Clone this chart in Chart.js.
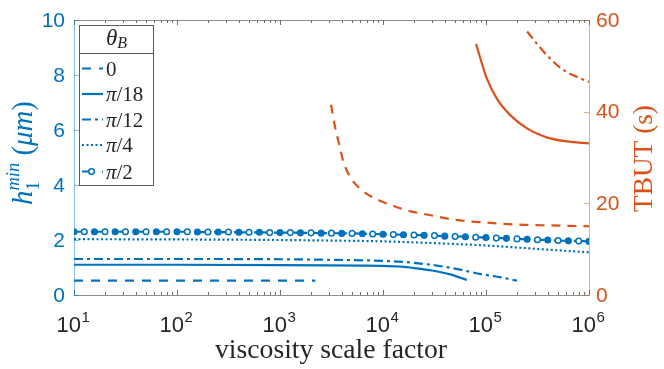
<!DOCTYPE html>
<html><head><meta charset="utf-8">
<script src="https://cdn.jsdelivr.net/npm/chart.js@4/dist/chart.umd.min.js"></script>
<style>html,body{margin:0;padding:0;background:#fff}</style>
</head><body>
<canvas id="c" width="664" height="369"></canvas>
<script>
// ---------- data ----------
const xTickValues = [10, 100, 1000, 10000, 100000, 1000000];
const xTickExponents = ['1', '2', '3', '4', '5', '6'];
const leftTicks = [0, 2, 4, 6, 8, 10];
const rightTicks = [0, 20, 40, 60];
const legendLabels = ['0', 'π/18', 'π/12', 'π/4', 'π/2'];

// h1min (left axis)
const xTheta0 = [10, 100, 1000, 2200];
const yTheta0 = [0.52, 0.52, 0.52, 0.52];
const xPi18 = [10, 100, 1000, 3000, 6000, 10000, 15000, 20000, 30000, 45000, 65000];
const yPi18 = [1.10, 1.10, 1.09, 1.08, 1.07, 1.06, 1.03, 0.98, 0.89, 0.75, 0.55];
const xPi12 = [10, 100, 1000, 3000, 10000, 20000, 45000, 90000, 140000, 200000];
const yPi12 = [1.31, 1.31, 1.30, 1.28, 1.24, 1.17, 0.99, 0.76, 0.64, 0.52];
const xPi4 = [10, 100, 1000, 3000, 10000, 30000, 100000, 300000, 1000000];
const yPi4 = [2.03, 2.02, 2.00, 1.98, 1.95, 1.89, 1.80, 1.68, 1.55];
const xPi2 = [10, 12.6, 15.8, 20, 25.1, 31.6, 39.8, 50.1, 63.1, 79.4,
  100, 126, 158, 200, 251, 316, 398, 501, 631, 794,
  1000, 1260, 1580, 2000, 2510, 3160, 3980, 5010, 6310, 7940,
  10000, 12600, 15800, 20000, 25100, 31600, 39800, 50100, 63100, 79400,
  100000, 126000, 158000, 200000, 251000, 316000, 398000, 501000, 631000, 794000, 1000000];
const yPi2 = [2.30, 2.30, 2.30, 2.30, 2.30, 2.30, 2.30, 2.30, 2.30, 2.30,
  2.30, 2.30, 2.29, 2.29, 2.29, 2.29, 2.28, 2.28, 2.28, 2.27,
  2.27, 2.27, 2.26, 2.26, 2.25, 2.25, 2.24, 2.24, 2.23, 2.22,
  2.21, 2.20, 2.19, 2.18, 2.17, 2.16, 2.14, 2.13, 2.12, 2.10,
  2.09, 2.07, 2.06, 2.04, 2.03, 2.01, 2.00, 1.98, 1.97, 1.96, 1.95];

// TBUT (right axis)
const xTbutDashed = [3130, 3420, 3770, 4120, 4790, 6210, 8690, 13100, 19000, 27600, 41500, 64900, 101600, 147000, 248000, 388000, 1000000];
const yTbutDashed = [41.5, 36.7, 32.7, 29.1, 25.8, 22.9, 20.9, 19.3, 18.2, 17.5, 16.7, 16.1, 15.8, 15.5, 15.3, 15.2, 15.0];
const xTbutSolid = [80000, 101600, 127000, 171000, 248000, 388000, 607000, 1000000];
const yTbutSolid = [54.8, 47.3, 42.9, 39.3, 36.4, 34.4, 33.5, 33.1];
const xTbutDashDot = [251000, 310000, 418000, 564000, 759000, 1000000];
const yTbutDashDot = [57.5, 54.9, 51.6, 49.1, 47.6, 46.5];

// ---------- styles ----------
const BLUE = '#0072BD', ORANGE = '#D95319';
const SERIF = '"Liberation Serif","Times New Roman",serif';
const SANS = '"Liberation Sans",Arial,Helvetica,sans-serif';
const pts = (xs, ys) => xs.map((x, i) => ({x: x, y: ys[i]}));

function lineDs(xs, ys, color, dash, axis, extra) {
  return Object.assign({
    data: pts(xs, ys), borderColor: color, backgroundColor: color, borderWidth: 2.2,
    borderDash: dash, pointRadius: 0, yAxisID: axis, fill: false, tension: 0,
    cubicInterpolationMode: 'monotone', borderCapStyle: 'butt'
  }, extra || {});
}

const datasets = [
  lineDs(xTheta0, yTheta0, BLUE, [9, 8], 'y'),
  lineDs(xPi18, yPi18, BLUE, [], 'y'),
  lineDs(xPi12, yPi12, BLUE, [9, 4, 3, 4], 'y'),
  lineDs(xPi4, yPi4, BLUE, [2, 2.5], 'y'),
  lineDs(xPi2, yPi2, BLUE, [13, 7], 'y', {
    pointRadius: 2.8, pointBorderWidth: 1.5, pointBorderColor: BLUE,
    pointBackgroundColor: (c) => (c.dataIndex % 2 ? '#ffffff' : BLUE)
  }),
  lineDs(xTbutDashed, yTbutDashed, ORANGE, [9, 7], 'y2'),
  lineDs(xTbutSolid, yTbutSolid, ORANGE, [], 'y2'),
  lineDs(xTbutDashDot, yTbutDashDot, ORANGE, [9, 4, 3, 4], 'y2')
];

// ---------- rich text helpers ----------
function fontOf(p, s) { return (p.italic ? 'italic ' : '') + (p.size * s).toFixed(2) + 'px ' + (p.fam || SERIF); }
function measureParts(ctx, parts, s) {
  let w = 0, pend = 0;
  for (const p of parts) {
    ctx.font = fontOf(p, s);
    p._w = ctx.measureText(p.t).width;
    if (p.noAdv) { pend = p._w; p._adv = 0; }
    else { p._adv = Math.max(p._w, pend); pend = 0; }
    w += p._adv;
  }
  return w;
}
function drawParts(ctx, parts, x, y, s) {
  let cx = x;
  for (const p of parts) {
    ctx.font = fontOf(p, s);
    ctx.fillText(p.t, cx, y + (p.dy || 0) * s);
    cx += p._adv;
  }
}
function fitParts(ctx, parts, target) {
  const w = measureParts(ctx, parts, 1);
  const s = target / w;
  measureParts(ctx, parts, s);
  return s;
}

const decor = {
  id: 'decor',
  afterDatasetsDraw(chart) {
    const ctx = chart.ctx, a = chart.chartArea;
    const xs = chart.scales.x, ys = chart.scales.y, y2 = chart.scales.y2;
    ctx.save();
    ctx.setLineDash([]);
    // box
    ctx.lineWidth = 1;
    ctx.strokeStyle = '#8c8c8c';
    ctx.beginPath();
    ctx.moveTo(a.left, a.top + 0.5); ctx.lineTo(a.right, a.top + 0.5);
    ctx.moveTo(a.left, a.bottom + 0.5); ctx.lineTo(a.right, a.bottom + 0.5);
    ctx.stroke();
    // x ticks
    ctx.strokeStyle = '#6e6e6e';
    ctx.beginPath();
    for (let d = 1; d <= 6; d++) {
      for (let m = 1; m <= 9; m++) {
        const v = Math.pow(10, d) * m;
        if (v > 1e6) break;
        const px = Math.round(xs.getPixelForValue(v)) + 0.5;
        const len = m === 1 ? 5 : 3;
        ctx.moveTo(px, a.bottom); ctx.lineTo(px, a.bottom - len);
        ctx.moveTo(px, a.top); ctx.lineTo(px, a.top + len);
      }
    }
    ctx.stroke();
    // left axis
    ctx.strokeStyle = 'rgba(0,114,189,0.45)';
    ctx.beginPath();
    ctx.moveTo(a.left + 0.5, a.top); ctx.lineTo(a.left + 0.5, a.bottom + 1);
    for (const t of leftTicks) {
      const py = Math.round(ys.getPixelForValue(t)) + 0.5;
      ctx.moveTo(a.left, py); ctx.lineTo(a.left + 5, py);
    }
    ctx.stroke();
    // right axis
    ctx.strokeStyle = 'rgba(217,83,25,0.5)';
    ctx.beginPath();
    ctx.moveTo(a.right + 0.5, a.top); ctx.lineTo(a.right + 0.5, a.bottom + 1);
    for (const t of rightTicks) {
      const py = Math.round(y2.getPixelForValue(t)) + 0.5;
      ctx.moveTo(a.right, py); ctx.lineTo(a.right - 5, py);
    }
    ctx.stroke();

    // tick labels
    ctx.textBaseline = 'middle';
    ctx.font = '21px ' + SANS;
    ctx.fillStyle = BLUE; ctx.textAlign = 'right';
    for (const t of leftTicks) ctx.fillText(String(t), a.left - 9, ys.getPixelForValue(t) + 1);
    ctx.fillStyle = ORANGE; ctx.textAlign = 'left';
    for (const t of rightTicks) ctx.fillText(String(t), a.right + 7, y2.getPixelForValue(t) + 1);
    ctx.textBaseline = 'alphabetic';
    ctx.fillStyle = '#262626';
    xTickValues.forEach((v, i) => {
      const px = xs.getPixelForValue(v);
      ctx.font = '22px ' + SANS;
      const w1 = ctx.measureText('10').width;
      ctx.font = '15px ' + SANS;
      const w2 = ctx.measureText(xTickExponents[i]).width;
      const x0 = px - (w1 + w2) / 2 - 1;
      ctx.textAlign = 'left';
      ctx.font = '22px ' + SANS;
      ctx.fillText('10', x0, 332);
      ctx.font = '15px ' + SANS;
      ctx.fillText(xTickExponents[i], x0 + w1 + 0.5, 322);
    });

    // x title
    ctx.fillStyle = '#262626';
    const xt = [{t: 'viscosity scale factor', size: 26}];
    const sx = fitParts(ctx, xt, 232);
    drawParts(ctx, xt, 215, 358, sx);

    // left title (rotated)
    const lt = [
      {t: 'h', italic: true, size: 25},
      {t: '1', size: 16, dy: 6, noAdv: true},
      {t: 'min', italic: true, size: 16, dy: -11},
      {t: ' (', size: 25},
      {t: 'μm', italic: true, size: 25},
      {t: ')', size: 25}
    ];
    ctx.save();
    ctx.translate(32, 153);
    ctx.rotate(-Math.PI / 2);
    ctx.fillStyle = BLUE;
    const sl = fitParts(ctx, lt, 104);
    drawParts(ctx, lt, -52, 0, sl);
    ctx.restore();

    // right title (rotated)
    const rt = [{t: 'TBUT (s)', size: 25}];
    ctx.save();
    ctx.translate(652, 158.5);
    ctx.rotate(-Math.PI / 2);
    ctx.fillStyle = ORANGE;
    const sr = fitParts(ctx, rt, 107);
    drawParts(ctx, rt, -53.5, 0, sr);
    ctx.restore();

    // legend
    const L = 79.5, T = 25.5, R = 153.5, B = 185.5;
    ctx.fillStyle = '#ffffff';
    ctx.fillRect(L, T, R - L, B - T);
    ctx.strokeStyle = '#5a5a5a';
    ctx.lineWidth = 1;
    ctx.strokeRect(L, T, R - L, B - T);
    ctx.beginPath(); ctx.moveTo(L, 53.5); ctx.lineTo(R, 53.5); ctx.stroke();
    ctx.fillStyle = '#262626';
    const tt = [{t: 'θ', italic: true, size: 23}, {t: 'B', italic: true, size: 16, dy: 3}];
    const tw = measureParts(ctx, tt, 1);
    drawParts(ctx, tt, 116.5 - tw / 2, 45, 1);
    const rowsY = [68.5, 94, 119.5, 145, 171.5];
    legendLabels.forEach((lab, i) => {
      const ds = datasets[i], cy = rowsY[i];
      ctx.strokeStyle = ds.borderColor;
      ctx.lineWidth = ds.borderWidth;
      ctx.setLineDash(ds.borderDash);
      ctx.beginPath(); ctx.moveTo(82, cy); ctx.lineTo(103, cy); ctx.stroke();
      ctx.setLineDash([]);
      if (ds.pointRadius > 0) {
        ctx.beginPath(); ctx.arc(91.5, cy, ds.pointRadius, 0, Math.PI * 2);
        ctx.fillStyle = '#ffffff'; ctx.fill();
        ctx.lineWidth = ds.pointBorderWidth; ctx.strokeStyle = ds.pointBorderColor; ctx.stroke();
      }
      ctx.fillStyle = '#262626';
      const parts = lab.startsWith('π')
        ? [{t: 'π', italic: true, size: 21}, {t: lab.slice(1), size: 21}]
        : [{t: lab, size: 21}];
      measureParts(ctx, parts, 1);
      drawParts(ctx, parts, 106, cy + 7, 1);
    });
    ctx.restore();
  }
};

new Chart(document.getElementById('c'), {
  type: 'line',
  data: {datasets: datasets},
  options: {
    responsive: false, animation: false, devicePixelRatio: 1,
    layout: {padding: {top: 20, left: 0, right: 0, bottom: 0}},
    plugins: {legend: {display: false}, tooltip: {enabled: false}},
    scales: {
      x: {type: 'logarithmic', min: 10, max: 1000000, ticks: {display: false},
          grid: {display: false}, border: {display: false}, afterFit: (s) => { s.height = 74; }},
      y: {type: 'linear', position: 'left', min: 0, max: 10, ticks: {display: false},
          grid: {display: false}, border: {display: false}, afterFit: (s) => { s.width = 74; }},
      y2: {type: 'linear', position: 'right', min: 0, max: 60, ticks: {display: false},
           grid: {display: false}, border: {display: false}, afterFit: (s) => { s.width = 75; }}
    }
  },
  plugins: [decor]
});
</script>
</body></html>
